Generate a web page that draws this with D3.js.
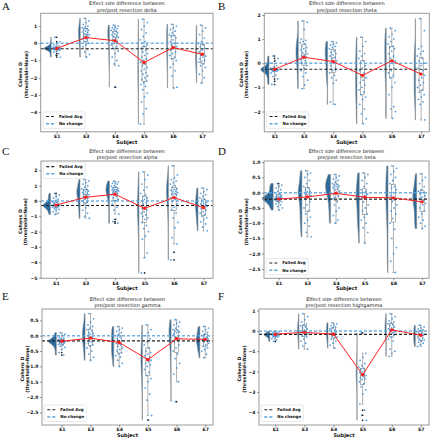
<!DOCTYPE html>
<html><head><meta charset="utf-8">
<script src="https://cdn.jsdelivr.net/npm/d3@7"></script>
<style>body{margin:0;background:#fff}svg{display:block}text{font-family:"DejaVu Sans",sans-serif}</style>
</head><body>
<svg id="c" width="432" height="440"></svg>
<script>
// ---------------- DATA ----------------
const subjects = ["E1","E3","E4","E5","E6","E7"];
const bands = ["delta","theta","alpha","beta","gamma","highgamma"];
const panelLetters = ["A","B","C","D","E","F"];
const failedAvg = [-0.32,-0.25,-0.30,-0.21,-0.17,-0.17];
const noChange = 0;

const meansDelta = [-0.30,0.33,0.15,-1.12,-0.25,-0.64];
const meansTheta = [-0.25,0.25,0.07,-0.50,0.10,-0.45];
const meansAlpha = [-0.27,0.24,0.44,-0.48,0.22,-0.44];
const meansBeta  = [-0.21,-0.14,-0.02,-0.15,-0.17,-0.30];
const meansGamma = [-0.18,-0.08,-0.22,-0.78,-0.10,-0.12];
const meansHigh  = [-0.16,-0.07,-0.16,-2.16,0.05,-0.21];

const yTicksDelta = [1,0,-1,-2,-3,-4];
const yTicksTheta = [2,1,0,-1,-2];
const yTicksAlpha = [2,1,0,-1,-2,-3,-4,-5];
const yTicksBeta  = [1.0,0.5,0.0,-0.5,-1.0,-1.5,-2.0,-2.5];
const yTicksGamma = [0.5,0.0,-0.5,-1.0,-1.5,-2.0,-2.5];
const yTicksHigh  = [1,0,-1,-2,-3,-4];

const pointsDelta = [
 [0.35,0.1,0.0,-0.1,-0.15,-0.2,-0.22,-0.24,-0.25,-0.26,-0.27,-0.28,-0.29,-0.3,-0.3,-0.31,-0.32,-0.33,-0.34,-0.35,-0.36,-0.38,-0.4,-0.45,-0.5,-0.6,-0.7,-0.8],
 [1.45,1.3,1.2,1.1,1.0,0.95,0.9,0.85,0.8,0.75,0.7,0.65,0.6,0.55,0.5,0.45,0.4,0.35,0.3,0.25,0.2,0.1,0.0,-0.1,-0.2,-0.35,-0.5,-0.65,-0.8],
 [1.05,1.0,0.95,0.9,0.85,0.8,0.75,0.7,0.65,0.6,0.55,0.5,0.45,0.4,0.35,0.3,0.2,0.1,0.0,-0.1,-0.2,-0.3,-0.45,-0.6,-0.8,-1.0,-1.2,-1.3,-2.55],
 [1.4,1.2,1.0,0.8,0.6,0.4,0.2,0.1,0.0,-0.1,-0.2,-0.3,-0.4,-0.5,-0.6,-0.7,-0.8,-0.9,-1.0,-1.1,-1.2,-1.3,-1.4,-1.5,-1.6,-1.7,-1.8,-1.9,-2.0,-2.1,-2.2,-2.3,-2.4,-2.5,-2.7,-2.9,-3.1,-3.4,-3.8,-4.1,-4.7],
 [1.1,1.0,0.9,0.8,0.7,0.6,0.5,0.45,0.4,0.3,0.2,0.1,0.0,-0.1,-0.2,-0.3,-0.4,-0.5,-0.6,-0.7,-0.8,-0.9,-1.0,-1.2,-1.4,-1.6,-1.9,-2.55,-2.6],
 [1.05,0.9,0.7,0.5,0.3,0.1,0.0,-0.1,-0.2,-0.3,-0.4,-0.5,-0.6,-0.7,-0.75,-0.8,-0.9,-1.0,-1.05,-1.1,-1.2,-1.3,-1.4,-1.6,-1.8,-2.0,-2.3]
];
const pointsTheta = [
 [0.3,0.2,0.1,0.0,-0.1,-0.15,-0.2,-0.22,-0.23,-0.24,-0.25,-0.25,-0.26,-0.27,-0.28,-0.29,-0.3,-0.32,-0.35,-0.4,-0.48,-0.55,-0.65,-0.75,-0.88],
 [1.75,1.7,1.4,1.0,0.95,0.9,0.85,0.8,0.7,0.65,0.6,0.55,0.5,0.45,0.4,0.35,0.3,0.25,0.2,0.15,0.1,0.0,-0.1,-0.2,-0.3,-0.4,-0.55,-0.7,-0.9,-1.05],
 [0.9,0.85,0.8,0.75,0.7,0.65,0.6,0.5,0.45,0.4,0.35,0.3,0.25,0.2,0.1,0.0,-0.1,-0.2,-0.3,-0.4,-0.5,-0.6,-0.7,-0.83,-1.6,-1.7],
 [1.08,0.9,0.7,0.5,0.4,0.3,0.2,0.1,0.0,-0.1,-0.2,-0.3,-0.4,-0.5,-0.6,-0.7,-0.8,-0.9,-1.0,-1.1,-1.2,-1.3,-1.4,-1.5,-1.7,-1.9,-2.1,-2.3,-2.5],
 [1.45,1.35,1.2,1.1,1.0,0.9,0.8,0.7,0.65,0.6,0.5,0.4,0.3,0.2,0.1,0.0,-0.1,-0.2,-0.3,-0.4,-0.5,-0.6,-0.8,-1.0,-1.3,-1.8,-1.9,-2.0,-2.28],
 [1.85,1.35,0.7,0.6,0.5,0.4,0.3,0.2,0.1,0.0,-0.1,-0.2,-0.3,-0.4,-0.5,-0.6,-0.7,-0.8,-0.9,-1.0,-1.1,-1.2,-1.3,-1.4,-1.5,-1.6,-1.7,-2.35]
];
const pointsAlpha = [
 [0.5,0.4,0.3,0.2,0.1,0.0,-0.05,-0.1,-0.15,-0.2,-0.22,-0.25,-0.27,-0.28,-0.3,-0.31,-0.32,-0.35,-0.38,-0.4,-0.45,-0.5,-0.55,-0.6,-0.7,-0.8,-0.88],
 [1.4,1.3,1.2,1.1,1.0,0.9,0.8,0.75,0.7,0.65,0.6,0.55,0.5,0.45,0.4,0.35,0.3,0.2,0.1,0.0,-0.1,-0.2,-0.3,-0.45,-0.6,-0.8,-1.0,-1.13],
 [1.3,1.25,1.2,1.15,1.1,1.0,0.95,0.9,0.85,0.8,0.75,0.72,0.7,0.68,0.65,0.6,0.55,0.5,0.45,0.4,0.3,0.2,0.1,0.0,-0.2,-0.4,-0.6,-0.85,-1.2,-1.35,-1.45],
 [1.9,1.7,1.4,1.1,0.9,0.7,0.5,0.4,0.3,0.2,0.1,0.0,-0.1,-0.2,-0.3,-0.4,-0.5,-0.6,-0.7,-0.8,-0.9,-1.0,-1.1,-1.2,-1.4,-1.6,-1.8,-2.0,-2.3,-2.5,-3.4,-3.7,-4.7],
 [2.3,1.7,1.5,1.4,1.3,1.2,1.1,1.0,0.9,0.8,0.75,0.7,0.65,0.6,0.55,0.5,0.45,0.4,0.3,0.2,0.1,0.0,-0.2,-0.4,-0.6,-0.8,-1.1,-1.4,-1.75,-2.4,-2.8,-3.35,-3.85],
 [0.85,0.75,0.6,0.5,0.4,0.3,0.2,0.1,0.0,-0.1,-0.15,-0.2,-0.25,-0.3,-0.35,-0.4,-0.5,-0.6,-0.7,-0.8,-0.9,-1.0,-1.1,-1.2,-1.35,-1.5,-1.7,-1.95]
];
const pointsBeta = [
 [0.3,0.25,0.2,0.15,0.1,0.05,0.0,-0.05,-0.08,-0.1,-0.12,-0.14,-0.15,-0.17,-0.18,-0.19,-0.2,-0.21,-0.22,-0.24,-0.25,-0.28,-0.3,-0.33,-0.36,-0.4,-0.45,-0.5,-0.57],
 [0.72,0.65,0.6,0.5,0.4,0.3,0.2,0.15,0.1,0.05,0.03,0.0,-0.02,-0.05,-0.1,-0.15,-0.2,-0.3,-0.4,-0.5,-0.6,-0.7,-0.8,-0.9,-1.0,-1.1,-1.3,-1.45],
 [0.6,0.55,0.5,0.45,0.4,0.35,0.3,0.27,0.25,0.22,0.2,0.17,0.15,0.1,0.05,0.0,-0.05,-0.1,-0.15,-0.2,-0.3,-0.4,-0.5,-0.6,-0.75,-0.9,-1.0],
 [0.65,0.6,0.5,0.4,0.3,0.2,0.1,0.05,0.0,-0.05,-0.1,-0.15,-0.2,-0.3,-0.4,-0.5,-0.6,-0.7,-0.8,-0.9,-1.0,-1.15,-1.3,-1.65],
 [0.88,0.8,0.7,0.6,0.5,0.4,0.3,0.2,0.15,0.1,0.0,-0.1,-0.2,-0.3,-0.4,-0.5,-0.6,-0.7,-0.85,-1.0,-1.2,-1.5,-1.8,-2.0,-2.25,-2.62],
 [0.62,0.5,0.4,0.3,0.2,0.1,0.05,0.0,-0.05,-0.1,-0.15,-0.2,-0.25,-0.3,-0.35,-0.4,-0.5,-0.6,-0.7,-0.8,-0.9,-1.0,-1.1,-1.18]
];
const pointsGamma = [
 [0.1,0.05,0.0,-0.05,-0.08,-0.1,-0.12,-0.14,-0.15,-0.16,-0.17,-0.18,-0.18,-0.19,-0.2,-0.21,-0.22,-0.24,-0.26,-0.28,-0.3,-0.34,-0.38,-0.45,-0.55,-0.63],
 [0.72,0.55,0.45,0.35,0.3,0.25,0.2,0.15,0.1,0.08,0.05,0.0,-0.05,-0.1,-0.15,-0.2,-0.25,-0.3,-0.35,-0.4,-0.5,-0.6,-0.7,-0.8],
 [0.3,0.25,0.2,0.15,0.1,0.05,0.0,-0.05,-0.1,-0.15,-0.2,-0.25,-0.3,-0.35,-0.4,-0.45,-0.5,-0.55,-0.6,-0.65,-0.7,-0.8,-0.9,-1.0],
 [0.35,0.2,0.1,0.0,-0.1,-0.2,-0.3,-0.4,-0.5,-0.55,-0.6,-0.65,-0.7,-0.75,-0.8,-0.85,-0.9,-0.95,-1.0,-1.1,-1.2,-1.3,-1.4,-1.5,-1.7,-1.9,-2.1,-2.6,-2.75],
 [0.52,0.45,0.4,0.35,0.3,0.25,0.2,0.17,0.15,0.12,0.1,0.05,0.0,-0.05,-0.1,-0.15,-0.2,-0.3,-0.4,-0.5,-0.6,-0.75,-0.9,-1.05,-1.25,-1.5,-2.15],
 [0.3,0.25,0.2,0.15,0.1,0.05,0.0,-0.05,-0.08,-0.1,-0.12,-0.15,-0.18,-0.2,-0.25,-0.3,-0.35,-0.4,-0.45,-0.5,-0.6,-0.72]
];
const pointsHigh = [
 [-0.02,-0.05,-0.08,-0.1,-0.12,-0.14,-0.15,-0.16,-0.17,-0.18,-0.19,-0.2,-0.21,-0.22,-0.24,-0.26,-0.28,-0.3,-0.33,-0.38,-0.45,-0.52],
 [0.85,0.7,0.55,0.45,0.35,0.3,0.25,0.2,0.15,0.1,0.05,0.0,-0.05,-0.1,-0.15,-0.2,-0.25,-0.3,-0.4,-0.5,-0.6,-0.75,-0.9],
 [0.4,0.35,0.3,0.25,0.2,0.15,0.1,0.05,0.0,-0.05,-0.1,-0.15,-0.2,-0.25,-0.3,-0.35,-0.4,-0.5,-0.6,-0.7,-0.85],
 [-0.1,-1.1,-1.3,-1.45,-1.6,-1.7,-1.78,-1.85,-1.9,-1.95,-2.0,-2.05,-2.1,-2.15,-2.2,-2.25,-2.3,-2.35,-2.4,-2.5,-2.6,-2.75,-2.9,-3.1,-3.6,-3.9,-4.15,-4.4],
 [0.85,0.7,0.6,0.5,0.45,0.4,0.35,0.3,0.25,0.2,0.15,0.1,0.05,0.0,-0.05,-0.1,-0.15,-0.2,-0.3,-0.4,-0.5,-0.9,-1.0,-1.1,-1.25],
 [0.28,0.2,0.15,0.1,0.05,0.0,-0.05,-0.1,-0.15,-0.2,-0.25,-0.3,-0.35,-0.4,-0.45,-0.5,-0.55,-0.6,-0.68,-0.76]
];

// ---------------- LAYOUT ----------------
const panels = [
 {points:pointsDelta, means:meansDelta, ticks:yTicksDelta, fmt:d3.format("d"), vw:0.25,
  x0:40.7,x1:213,y0:13.3,y1:131.8, yd:[-5.14,1.74], xd:[-0.55,5.37], leg:"bottom", lab:[0,0], ylx:26},
 {points:pointsTheta, means:meansTheta, ticks:yTicksTheta, fmt:d3.format("d"), vw:0.28,
  x0:264.3,x1:429.3,y0:13.3,y1:131.8, yd:[-2.84,2.07], xd:[-0.35,5.28], leg:"bottom", lab:[216,0], ylx:246.7},
 {points:pointsAlpha, means:meansAlpha, ticks:yTicksAlpha, fmt:d3.format("d"), vw:0.25,
  x0:41,x1:213,y0:161,y1:278.3, yd:[-5.05,2.61], xd:[-0.51,5.32], leg:"top", lab:[0,145], ylx:25.7},
 {points:pointsBeta, means:meansBeta, ticks:yTicksBeta, fmt:d3.format(".1f"), vw:0.38,
  x0:264,x1:429,y0:161,y1:278.3, yd:[-2.81,1.04], xd:[-0.51,5.24], leg:"bottom", lab:[216,145], ylx:246},
 {points:pointsGamma, means:meansGamma, ticks:yTicksGamma, fmt:d3.format(".1f"), vw:0.28,
  x0:42,x1:213,y0:309,y1:425, yd:[-2.91,0.87], xd:[-0.69,5.27], leg:"bottom", lab:[0,290], ylx:27.7},
 {points:pointsHigh, means:meansHigh, ticks:yTicksHigh, fmt:d3.format("d"), vw:0.2,
  x0:259,x1:429,y0:309,y1:425, yd:[-4.63,1.08], xd:[-0.56,5.28], leg:"bottom", lab:[216,290], ylx:244.3}
];

const C = {violin:"#2b6a9b", violinEdge:"#8a8a8a", pt:"#3d8fd6", red:"#ff1f1f", nochange:"#5aa5dc"};
const svg = d3.select("#c");

function kde(vals){
  const n = vals.length, sd = d3.deviation(vals);
  const h = 0.7*sd*Math.pow(n,-0.2);
  const lo = d3.min(vals), hi = d3.max(vals);
  return d3.range(0,101).map(k=>{
    const y = lo+(hi-lo)*k/100;
    return [y, d3.mean(vals, v=>Math.exp(-0.5*((y-v)/h)**2))/(h*Math.sqrt(2*Math.PI))];
  });
}

panels.forEach((p,pi)=>{
  const g = svg.append("g");
  const x = d3.scaleLinear().domain(p.xd).range([p.x0,p.x1]);
  const y = d3.scaleLinear().domain(p.yd).range([p.y1,p.y0]);
  const dens = p.points.map(kde);
  const maxD = d3.max(dens, d=>d3.max(d, e=>e[1]));
  const flatOff = -0.19;
  const ws = d3.scaleLinear().domain([0,maxD]).range([0, x(p.vw)-x(0)]);

  // violins
  dens.forEach((d,i)=>{
    const fx = x(i+flatOff);
    const area = d3.area().curve(d3.curveBasis)
      .y(e=>y(e[0])).x0(fx).x1(e=>fx-ws(e[1]));
    g.append("path").attr("d",area(d)).attr("fill",C.violin)
      .attr("stroke",C.violinEdge).attr("stroke-width",0.6);
  });

  // boxes
  const fliers = [];
  p.points.forEach((vals,i)=>{
    const s = vals.slice().sort(d3.ascending);
    const q1 = d3.quantile(s,0.25), q2 = d3.quantile(s,0.5), q3 = d3.quantile(s,0.75);
    const iqr = q3-q1;
    const lo = d3.min(s.filter(v=>v>=q1-1.5*iqr)), hi = d3.max(s.filter(v=>v<=q3+1.5*iqr));
    const cx = x(i), bw = x(0.07)-x(0);
    const bg = g.append("g").attr("stroke","#555").attr("stroke-width",0.45).attr("fill","none");
    bg.append("rect").attr("x",cx-bw).attr("width",2*bw).attr("y",y(q3)).attr("height",y(q1)-y(q3));
    bg.append("line").attr("x1",cx-bw).attr("x2",cx+bw).attr("y1",y(q2)).attr("y2",y(q2));
    bg.append("line").attr("x1",cx).attr("x2",cx).attr("y1",y(q3)).attr("y2",y(hi));
    bg.append("line").attr("x1",cx).attr("x2",cx).attr("y1",y(q1)).attr("y2",y(lo));
    bg.append("line").attr("x1",cx-bw/2).attr("x2",cx+bw/2).attr("y1",y(hi)).attr("y2",y(hi));
    bg.append("line").attr("x1",cx-bw/2).attr("x2",cx+bw/2).attr("y1",y(lo)).attr("y2",y(lo));
    s.filter(v=>v<lo||v>hi).forEach(v=>fliers.push([cx,v]));
  });

  // scatter (rain)
  p.points.forEach((vals,i)=>{
    g.append("g").selectAll("circle").data(vals).join("circle")
      .attr("cx",(v,k)=>x(i + (((k*0.6180339887+0.31)%1)-0.5)*0.26))
      .attr("cy",v=>y(v)).attr("r",0.9)
      .attr("fill",C.pt).attr("opacity",0.85);
  });
  g.append("g").selectAll("circle").data(fliers).join("circle")
    .attr("cx",d=>d[0]).attr("cy",d=>y(d[1])).attr("r",0.85).attr("fill","#222");

  // reference lines
  g.append("line").attr("x1",p.x0).attr("x2",p.x1).attr("y1",y(failedAvg[pi])).attr("y2",y(failedAvg[pi]))
    .attr("stroke","#222").attr("stroke-width",1.1).attr("stroke-dasharray","3,2");
  g.append("line").attr("x1",p.x0).attr("x2",p.x1).attr("y1",y(noChange)).attr("y2",y(noChange))
    .attr("stroke",C.nochange).attr("stroke-width",1.5).attr("stroke-dasharray","3,2").attr("opacity",0.85);

  // mean line
  const line = d3.line().x((d,i)=>x(i)).y(d=>y(d));
  g.append("path").attr("d",line(p.means)).attr("fill","none").attr("stroke",C.red).attr("stroke-width",1);
  g.append("g").selectAll("circle").data(p.means).join("circle")
    .attr("cx",(d,i)=>x(i)).attr("cy",d=>y(d)).attr("r",1.7).attr("fill",C.red);

  // frame
  g.append("rect").attr("x",p.x0).attr("y",p.y0).attr("width",p.x1-p.x0).attr("height",p.y1-p.y0)
    .attr("fill","none").attr("stroke","#9a9a9a").attr("stroke-width",1);

  // axes
  const ya = d3.axisLeft(y).tickValues(p.ticks).tickFormat(p.fmt).tickSize(2).tickPadding(1.5);
  const yg = g.append("g").attr("transform",`translate(${p.x0},0)`).call(ya);
  const xa = d3.axisBottom(x).tickValues(d3.range(subjects.length)).tickFormat(i=>subjects[i]).tickSize(2).tickPadding(1.2);
  const xg = g.append("g").attr("transform",`translate(0,${p.y1})`).call(xa);
  [yg,xg].forEach(a=>{
    a.select(".domain").remove();
    a.selectAll("text").attr("font-size",4.6).attr("font-weight","bold").attr("fill","#111")
      .style("font-family","'DejaVu Sans',sans-serif");
    a.selectAll("line").attr("stroke","#333").attr("stroke-width",0.5);
  });

  // labels
  const cx = (p.x0+p.x1)/2, cyy = (p.y0+p.y1)/2 + 2;
  g.append("text").attr("x",cx).attr("y",p.y1+10).attr("text-anchor","middle").attr("dominant-baseline","central")
    .attr("font-size",5).attr("font-weight","bold").attr("fill","#111").text("Subject");
  [["Cohens D",p.ylx-5.2],["(threshold=None)",p.ylx]].forEach(([t,xx])=>{
    g.append("text").attr("transform",`translate(${xx},${cyy}) rotate(-90)`).attr("text-anchor","middle")
      .attr("dominant-baseline","central").attr("font-size",4.7).attr("font-weight","bold").attr("fill","#111").text(t);
  });
  g.append("text").attr("x",cx).attr("y",p.y0-8).attr("text-anchor","middle")
    .attr("font-size",5).attr("fill","#222").text("Effect size difference between");
  g.append("text").attr("x",cx).attr("y",p.y0-1.6).attr("text-anchor","middle")
    .attr("font-size",5).attr("fill","#222").text("pre/post resection " + bands[pi]);
  g.append("text").attr("x",p.lab[0]+2).attr("y",p.lab[1]+9.5)
    .style("font-family","'Liberation Serif','DejaVu Serif',serif").attr("font-size",11).attr("fill","#111").text(panelLetters[pi]);

  // legend
  const lw = 42, lh = 16.5;
  const lx = p.x0+2.3, ly = p.leg==="top" ? p.y0+1 : p.y1-3.4-lh;
  const lg = g.append("g").attr("transform",`translate(${lx},${ly})`);
  lg.append("rect").attr("width",lw).attr("height",lh).attr("rx",1.2).attr("fill","#fff").attr("fill-opacity",0.85)
    .attr("stroke","#d0d0d0").attr("stroke-width",0.5);
  [["Failed Avg","#222",1.1],["No change",C.nochange,1.5]].forEach(([t,col,sw],k)=>{
    const yy = 4.6 + k*7.2;
    lg.append("line").attr("x1",3).attr("x2",12.5).attr("y1",yy).attr("y2",yy)
      .attr("stroke",col).attr("stroke-width",sw).attr("stroke-dasharray","3,2");
    lg.append("text").attr("x",16).attr("y",yy).attr("dominant-baseline","central")
      .attr("font-size",4).attr("font-weight","bold").attr("fill","#111").text(t);
  });
});
</script>
</body></html>
